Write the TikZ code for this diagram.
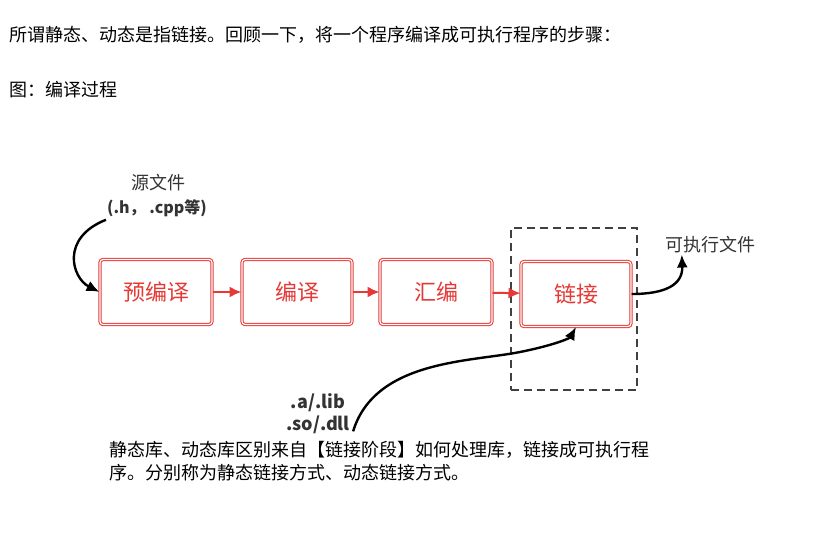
\documentclass[tikz,border=0pt]{standalone}
\usepackage{fontspec}
\setmainfont{Noto Sans CJK SC}
\usetikzlibrary{arrows.meta}
\definecolor{boxred}{HTML}{E53935}
\definecolor{labelgray}{HTML}{333333}
\tikzset{
  stage/.style={draw=boxred,double=white,double distance=1.2pt,line width=1pt,
    rounded corners=3pt,minimum width=110pt,minimum height=65pt,
    text=boxred,font=\fontsize{22}{26}\selectfont},
  redflow/.style={-{Latex[length=12pt,width=11pt]},boxred,line width=2pt},
  blackflow/.style={-{Latex[length=13pt,width=11pt]},black,line width=2.4pt},
  plain/.style={font=\fontsize{18}{23}\selectfont},
  tag/.style={font=\fontsize{18}{22}\selectfont,text=labelgray,inner sep=1pt}
}
\begin{document}
\begin{tikzpicture}[x=1pt,y=-1pt]
\useasboundingbox[fill=white] (0,0) rectangle (826,543);

\node[plain,anchor=west] (intro) at (6,35) {所谓静态、动态是指链接。回顾一下，将一个程序编译成可执行程序的步骤：};
\node[plain,anchor=west] (fig) at (6,90) {图：编译过程};

\node[stage,minimum width=112pt] (pre) at (156,292) {预编译};
\node[stage] (comp) at (297,292) {编译};
\node[stage,minimum width=112pt] (asm) at (436,292) {汇编};
\node[stage] (link) at (576,294) {链接};

\node[draw=black!75,dashed,line width=1.2pt,dash pattern=on 8pt off 5pt,
  minimum width=126pt,minimum height=162pt] (linkstage) at (574,309) {};

\draw[redflow] (pre) -- (comp);
\draw[redflow] (comp) -- (asm);
\draw[redflow] (asm) -- (link);

\node[tag] (src) at (158,183) {源文件};
\node[tag,font=\fontsize{16}{20}\selectfont\bfseries] (srcext) at (157,208) {(.h， .cpp等)};
\draw[blackflow] ([yshift=-2pt]srcext.south west) .. controls (60,238) and (72,278) .. (pre.west);

\node[tag] (exe) at (710,245) {可执行文件};
\draw[blackflow] (link.east) .. controls (665,294) and (683,285) .. ([xshift=18pt]exe.south west);

\node[tag,font=\fontsize{18}{22}\selectfont\bfseries,align=center] (lib) at (318,414) {.a/.lib\\.so/.dll};
\draw[blackflow] ([xshift=2pt,yshift=4pt]lib.south east) .. controls (375,360) and (470,362) .. (520,352)
  .. controls (555,345) and (570,338) .. (link.south);

\node[plain,anchor=west,align=left] (note) at (106,461)
  {静态库、动态库区别来自【链接阶段】如何处理库，链接成可执行程\\序。分别称为静态链接方式、动态链接方式。};

\end{tikzpicture}
\end{document}
